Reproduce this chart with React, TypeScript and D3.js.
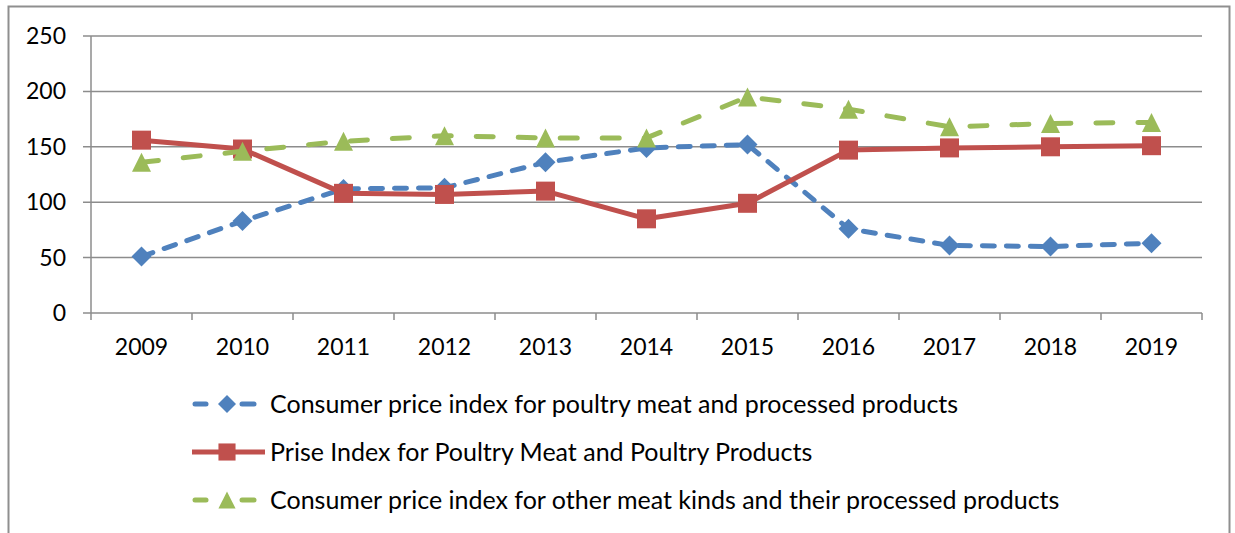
import React from 'react';
import * as d3 from 'd3';

const years = ['2009', '2010', '2011', '2012', '2013', '2014', '2015', '2016', '2017', '2018', '2019'];
const cpiPoultry = [51, 83, 112, 113, 136, 149, 152, 76, 61, 60, 63];
const priceIndex = [156, 148, 108, 107, 110, 85, 99, 147, 149, 150, 151];
const cpiOther = [136, 146, 155, 160, 158, 158, 195, 184, 168, 171, 172];
const yTicks = [0, 50, 100, 150, 200, 250];

const seriesNames = [
  'Consumer price index for poultry meat and processed products',
  'Prise Index for Poultry Meat and Poultry Products',
  'Consumer price index for other meat kinds and their processed products',
];

const W = 1235;
const H = 533;
const FONT = 'Lato, "Open Sans", sans-serif';
const GRID = '#8c8c8c';

// marker shapes, centred on 0,0
const marker = (kind, r) => {
  if (kind === 'diamond') return `M0,${-r}L${r},0L0,${r}L${-r},0Z`;
  if (kind === 'square') return `M${-r},${-r}H${r}V${r}H${-r}Z`;
  return `M0,${-r}L${r},${r}L${-r},${r}Z`;
};

const series = [
  { name: seriesNames[0], values: cpiPoultry, color: '#4F81BD', dash: '12 12', shape: 'diamond', r: 10 },
  { name: seriesNames[1], values: priceIndex, color: '#C0504D', dash: null, shape: 'square', r: 9.5 },
  { name: seriesNames[2], values: cpiOther, color: '#9BBB59', dash: '17 25', shape: 'triangle', r: 9.5 },
];

const App = () => {
  const margin = { left: 91, right: 1202, top: 36, bottom: 313 };

  const x = d3.scaleBand().domain(years).range([margin.left, margin.right]).padding(0);
  const y = d3.scaleLinear().domain([0, 250]).range([margin.bottom, margin.top]);
  const cx = (d) => x(d) + x.bandwidth() / 2;

  const line = d3
    .line()
    .x((d) => cx(d[0]))
    .y((d) => y(d[1]));

  const xTickPos = years.map((d) => x(d)).concat([margin.right]);

  return (
    <svg
      width={W}
      height={H}
      style={{ position: 'absolute', left: 0, top: 0, display: 'block', background: '#fff' }}
      fontFamily={FONT}
    >
      <rect x={8.5} y={6.5} width={1221} height={H + 20} fill="#fff" stroke="#8f8f8f" strokeWidth={2} />

      {/* gridlines + y axis */}
      {yTicks.map((t) => (
        <g key={t}>
          <line x1={83} x2={margin.right} y1={y(t)} y2={y(t)} stroke={GRID} strokeWidth={1.5} />
          <text x={66} y={y(t)} dy="0.35em" textAnchor="end" fontSize={23} fill="#000">
            {t}
          </text>
        </g>
      ))}
      <line x1={margin.left} x2={margin.left} y1={margin.top} y2={margin.bottom} stroke={GRID} strokeWidth={1.5} />

      {/* x ticks */}
      {xTickPos.map((p, i) => (
        <line key={i} x1={p} x2={p} y1={margin.bottom} y2={margin.bottom + 7} stroke={GRID} strokeWidth={1.5} />
      ))}
      {years.map((d) => (
        <text key={d} x={cx(d)} y={355} textAnchor="middle" fontSize={23} fill="#000">
          {d}
        </text>
      ))}

      {/* series */}
      {series.map((s) => {
        const pts = years.map((yr, i) => [yr, s.values[i]]);
        return (
          <g key={s.name}>
            <path
              d={line(pts)}
              fill="none"
              stroke={s.color}
              strokeWidth={5}
              strokeDasharray={s.dash || undefined}
              strokeLinecap={s.dash ? 'round' : 'butt'}
              strokeLinejoin="round"
            />
            {pts.map((p) => (
              <path
                key={p[0]}
                d={marker(s.shape, s.r)}
                transform={`translate(${cx(p[0])},${y(p[1])})`}
                fill={s.color}
              />
            ))}
          </g>
        );
      })}

      {/* legend */}
      {series.map((s, i) => {
        const ly = 404 + i * 48;
        return (
          <g key={s.name} transform={`translate(0,${ly})`}>
            {s.dash ? (
              <>
                <line x1={195} x2={206} y1={0} y2={0} stroke={s.color} strokeWidth={5} strokeLinecap="round" />
                <line x1={242} x2={254} y1={0} y2={0} stroke={s.color} strokeWidth={5} strokeLinecap="round" />
              </>
            ) : (
              <line x1={192} x2={265} y1={0} y2={0} stroke={s.color} strokeWidth={5} />
            )}
            <path d={marker(s.shape, s.r * 0.9)} transform="translate(227,0)" fill={s.color} />
            <text x={270} y={0} dy="0.35em" fontSize={25} fill="#000">
              {s.name}
            </text>
          </g>
        );
      })}
    </svg>
  );
};

export default App;
